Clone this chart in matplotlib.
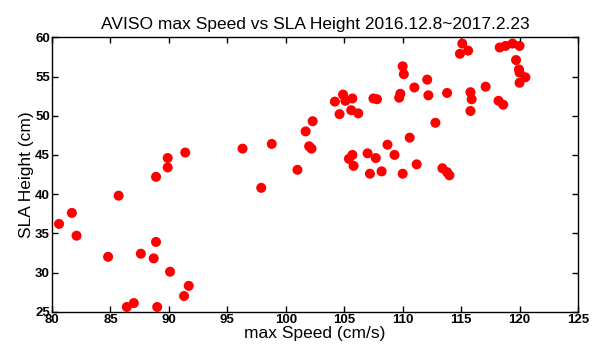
import matplotlib
matplotlib.use('Agg')
import matplotlib.pyplot as plt
import numpy as np

plt.rcParams['font.family'] = ['Liberation Sans', 'DejaVu Sans']

# 数据
speed = [80.6, 81.7, 82.1, 84.8, 85.7, 86.4, 87.0, 87.6, 88.7, 88.9, 89.0,
         88.9, 89.9, 89.9, 90.1, 91.3, 91.4, 91.7,
         96.3, 97.9, 98.8, 101.0, 101.7, 102.0, 102.2, 102.3,
         104.2, 104.6, 104.9, 105.1, 105.6, 105.7, 106.2, 107.5, 107.8,
         105.4, 105.7, 105.8, 107.0, 107.2, 107.7, 108.2, 108.7, 109.3,
         109.7, 109.8, 110.0, 110.0, 110.1, 110.6, 111.0, 111.2,
         112.1, 112.2, 112.8, 113.4, 113.8, 113.8, 114.0,
         114.9, 115.1, 115.6, 115.8, 115.8, 115.9, 117.1,
         118.2, 118.3, 118.6, 118.8, 119.4, 119.7, 119.95, 120.0, 120.0, 120.0, 120.5]
height = [36.2, 37.6, 34.7, 32.0, 39.8, 25.6, 26.1, 32.4, 31.8, 33.9, 25.6,
          42.2, 43.4, 44.6, 30.1, 27.0, 45.3, 28.3,
          45.8, 40.8, 46.4, 43.1, 48.0, 46.1, 45.8, 49.3,
          51.8, 50.2, 52.7, 51.9, 50.7, 52.2, 50.3, 52.2, 52.1,
          44.5, 45.0, 43.6, 45.2, 42.6, 44.6, 42.9, 46.3, 45.0,
          52.3, 52.8, 42.6, 56.3, 55.3, 47.2, 53.6, 43.8,
          54.6, 52.6, 49.1, 43.3, 42.8, 52.9, 42.4,
          57.9, 59.2, 58.3, 53.0, 50.6, 52.1, 53.7,
          51.9, 58.7, 51.4, 58.9, 59.2, 57.1, 55.9, 58.9, 55.5, 54.2, 54.9]

title = 'AVISO max Speed vs SLA Height 2016.12.8~2017.2.23'
xticks = np.arange(80, 126, 5)
yticks = np.arange(25, 61, 5)

fig = plt.figure(figsize=(6.06, 3.48), dpi=100)
ax = fig.add_axes([0.0858, 0.1043, 0.868, 0.7885])

ax.scatter(speed, height, s=52, color='#ff0000', edgecolors='none', zorder=3)

ax.set_xlim(80, 125)
ax.set_ylim(25, 60)
ax.set_xticks(xticks)
ax.set_yticks(yticks)
ax.tick_params(direction='in', length=4, width=1, top=True, right=True,
               labelsize=9.5, pad=1.5)
for lab in ax.get_xticklabels() + ax.get_yticklabels():
    lab.set_fontweight('bold')
for sp in ax.spines.values():
    sp.set_linewidth(1)

ax.set_title(title, fontsize=12.5, pad=6)
ax.set_xlabel('max Speed (cm/s)', fontsize=12.5, labelpad=0)
ax.set_ylabel('SLA Height (cm)', fontsize=12.5, labelpad=1)

fig.savefig('out.png', dpi=100)
